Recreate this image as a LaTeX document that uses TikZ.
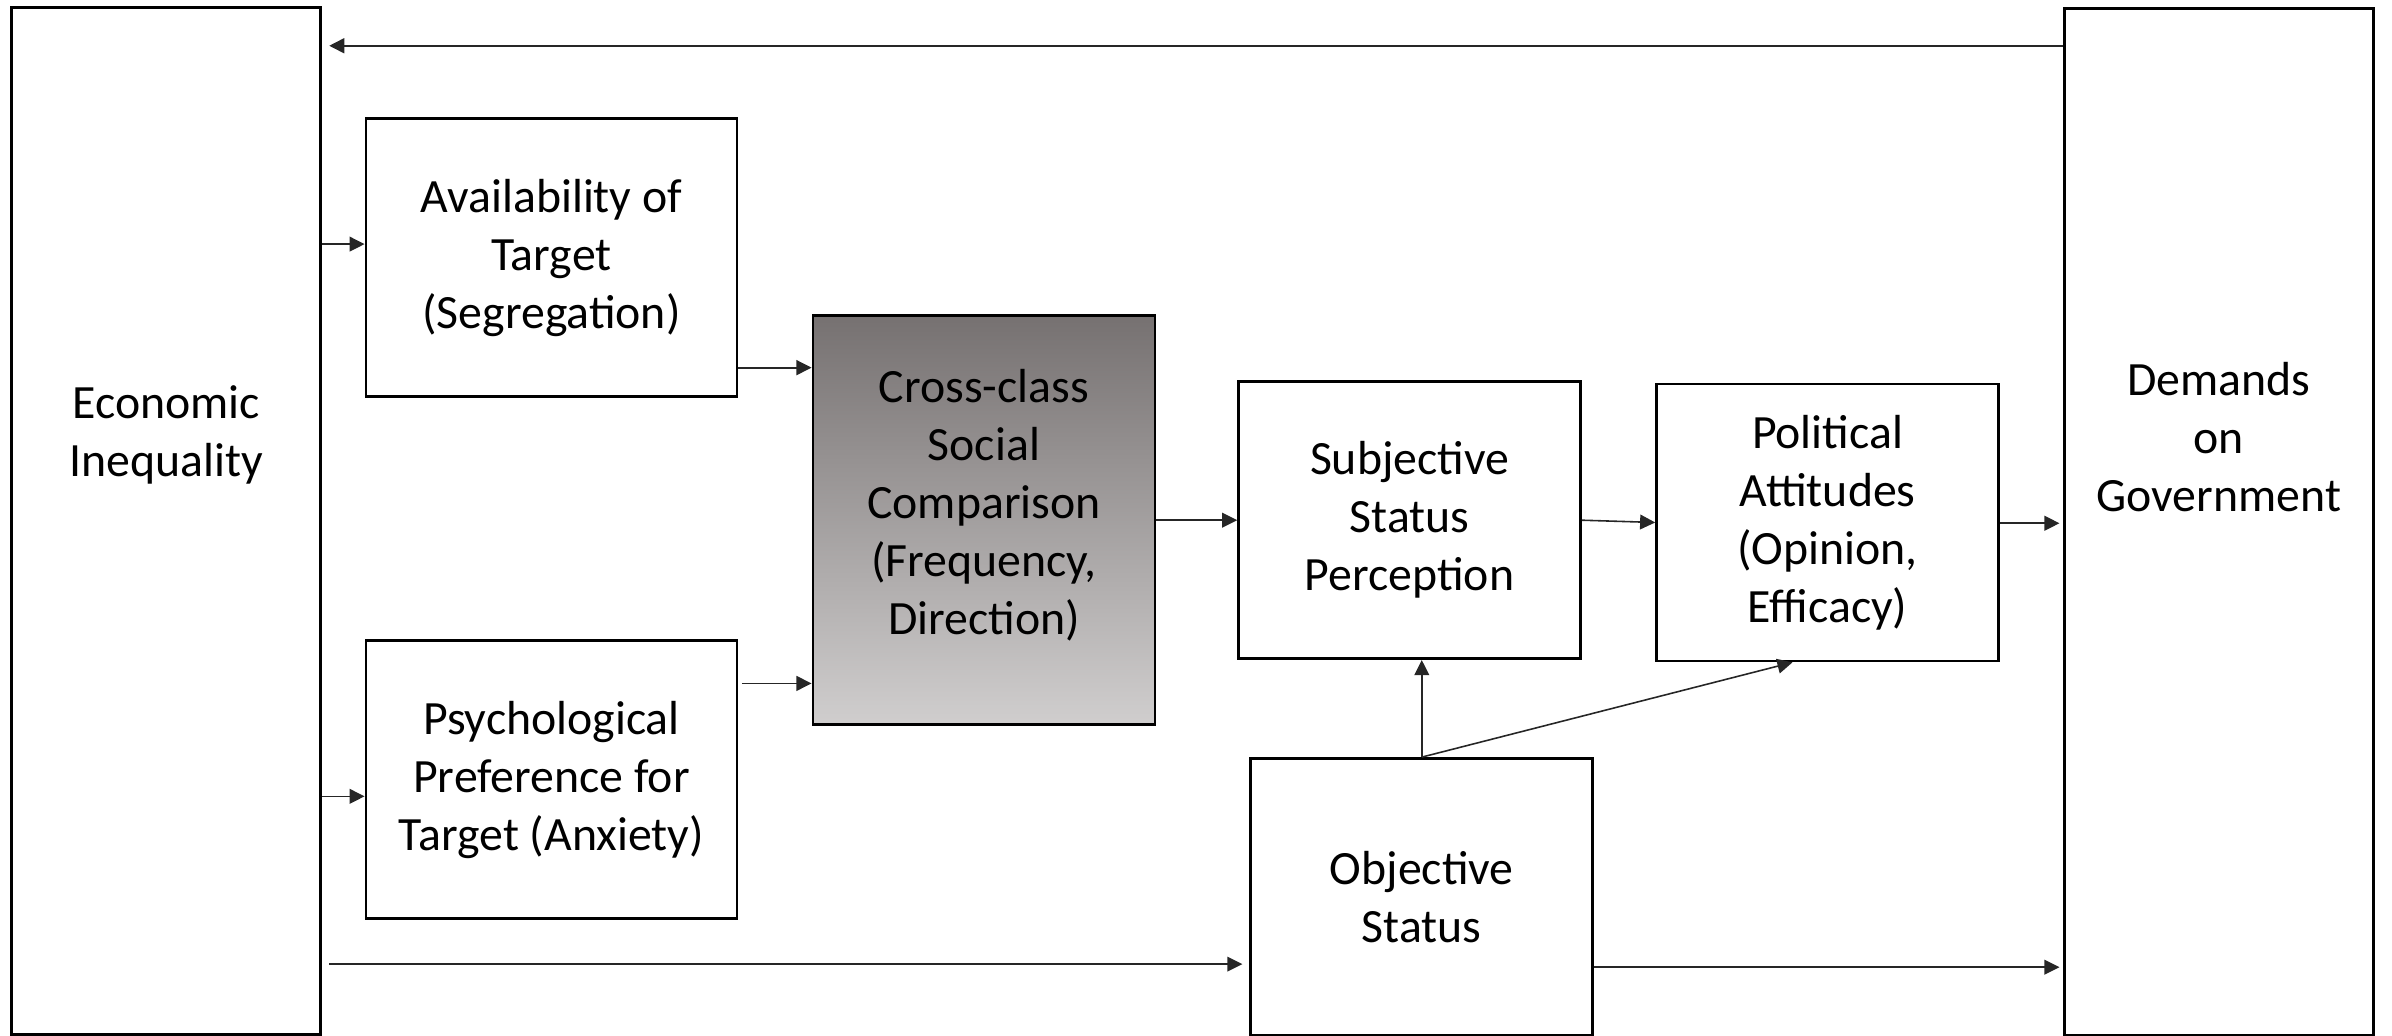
\documentclass[tikz,border=0pt]{standalone}
\usepackage{fontspec}
\setmainfont{Carlito}
\usetikzlibrary{arrows.meta}
\definecolor{crossTop}{HTML}{767171}
\definecolor{crossBot}{HTML}{D0CECE}

\begin{document}
\begin{tikzpicture}[x=0.015255cm,y=-0.015255cm,
    font=\fontsize{13.6}{16.5}\selectfont,
    box/.style={draw,line width=0.8pt,align=center,inner sep=2pt},
    widebox/.style={box,minimum width=3.71cm,minimum height=2.78cm},
    midbox/.style={box,minimum width=3.42cm,minimum height=2.77cm},
    tallbox/.style={box,minimum width=3.09cm,minimum height=10.27cm},
    txt/.style={align=center,inner sep=0pt},
    arr/.style={-{Triangle[length=4.3pt,width=4.2pt]},line width=0.45pt,draw=black!85}]
\useasboundingbox (0,0) rectangle (1568,679);
% outer columns
\node[tallbox] (econ) at (109,341.5) {};
\node[txt] (econtxt) at ([yshift=0.86cm]econ.center) {Economic\\Inequality};
\node[tallbox] (dem) at (1454.5,342) {};
\node[txt] (demtxt) at ([yshift=0.85cm]dem.center) {Demands\\on\\Government};
% inner boxes
\node[widebox] (avail) at (361.5,169) {Availability of\\Target\\(Segregation)};
\node[widebox] (psych) at (361.5,511) {Psychological\\Preference for\\Target (Anxiety)};
\node[box,minimum width=3.42cm,minimum height=4.09cm,top color=crossTop,bottom color=crossBot] (cross) at (645,341) {};
\node[txt] (crosstxt) at ([yshift=0.15cm]cross.center) {Cross-class\\Social\\Comparison\\(Frequency,\\Direction)};
\node[midbox] (subj) at (924,341) {Subjective\\Status\\Perception};
\node[midbox] (pol) at (1198,342.5) {Political\\Attitudes\\(Opinion,\\Efficacy)};
\node[midbox] (obj) at (932,588) {Objective\\Status};
% connectors
\draw[arr,line width=0.7pt,shorten >=2pt] (dem.west |- 0,30) -- (econ.east |- 0,30);
\draw[arr] (econ.east |- 0,160) -- (avail.west |- 0,160);
\draw[arr] (econ.east |- 0,522) -- (psych.west |- 0,522);
\draw[arr,line width=0.6pt] (avail.east |- 0,241) -- (cross.west |- 0,241);
\draw[arr,shorten <=1pt] (psych.east |- 0,448) -- (cross.west |- 0,448);
\draw[arr,shorten <=2pt,shorten >=2pt] (econ.east |- 0,632) -- (obj.west |- 0,632);
\draw[arr] (cross.east |- 0,341) -- (subj.west |- 0,341);
\draw[arr] (subj.east) -- (pol.west);
\draw[arr,shorten >=1pt] (pol.east |- 0,343) -- (dem.west |- 0,343);
\draw[arr] (obj.north) -- (obj.north |- subj.south);
\draw[arr] (obj.north) -- (pol.south -| 1175,0);
\draw[arr,shorten >=1pt] (obj.east |- 0,634) -- (dem.west |- 0,634);
\end{tikzpicture}
\end{document}
